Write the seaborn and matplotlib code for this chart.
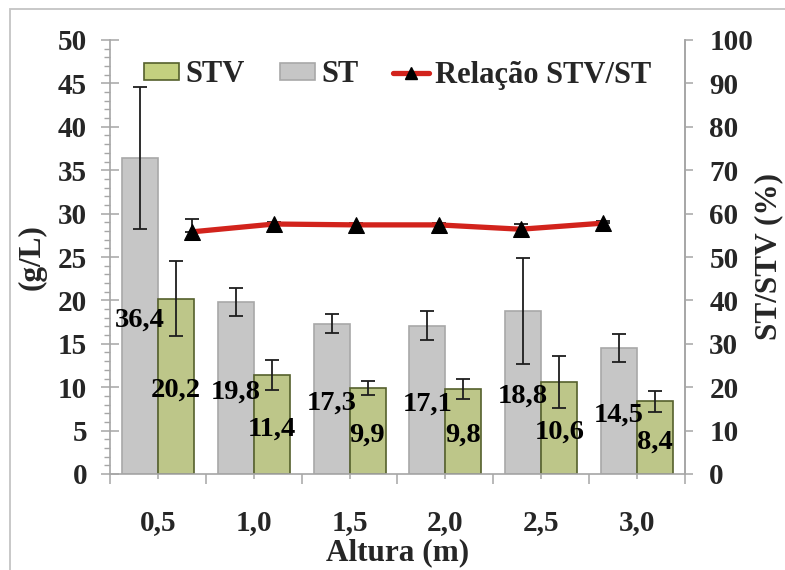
import numpy as np
import pandas as pd
import matplotlib
matplotlib.use("Agg")
import matplotlib.pyplot as plt
import seaborn as sns
from matplotlib.patches import Patch, Rectangle
from matplotlib.lines import Line2D
from matplotlib.ticker import MultipleLocator

# ---- data ----
alturas = ["0,5", "1,0", "1,5", "2,0", "2,5", "3,0"]
st = [36.4, 19.8, 17.3, 17.1, 18.8, 14.5]
stv = [20.2, 11.4, 9.9, 9.8, 10.6, 8.4]
st_err = [8.2, 1.6, 1.1, 1.7, 6.1, 1.6]
stv_err = [4.3, 1.7, 0.8, 1.2, 3.0, 1.2]
relacao = [55.8, 57.6, 57.4, 57.4, 56.4, 57.8]
relacao_err_up = [3.0, 0.5, 0.4, 0.4, 1.2, 0.4]
relacao_pos = [1, 2, 3, 4, 5, 6]
series = ["ST", "STV"]

GRAY = "#c6c6c6"
GRAY_EDGE = "#a8a8a8"
GREEN = "#c4d07f"
GREEN_EDGE = "#55602c"
RED = "#d2231c"
AXC = "#a6a6a6"
FAM = ["Liberation Serif", "DejaVu Serif"]

sns.set_theme(style="white")
plt.rcParams["font.family"] = FAM
plt.rcParams["font.weight"] = "bold"
plt.rcParams["axes.labelweight"] = "bold"

df = pd.DataFrame({
    "Altura": alturas * 2,
    "Serie": ["ST"] * len(alturas) + ["STV"] * len(alturas),
    "valor": st + stv,
})

fig = plt.figure(figsize=(7.85, 5.70), dpi=100)
ax = fig.add_axes([110 / 785, 1 - 474 / 570, 575 / 785, 434 / 570])

sns.barplot(data=df, x="Altura", y="valor", hue="Serie", hue_order=series,
            order=alturas, palette={"ST": GRAY, "STV": GREEN}, width=0.75,
            gap=0, errorbar=None, legend=False, ax=ax, linewidth=1.2)

edges = {"ST": GRAY_EDGE, "STV": GREEN_EDGE}
vals = {"ST": st, "STV": stv}
errs = {"ST": st_err, "STV": stv_err}
for cont, name in zip(ax.containers, series):
    xs = []
    for p, v in zip(cont, vals[name]):
        p.set_edgecolor(edges[name])
        xc = p.get_x() + p.get_width() / 2
        xs.append(xc)
        ax.annotate(f"{v:.1f}".replace(".", ","), (xc, p.get_height() / 2),
                    xytext=(0, -3), textcoords="offset points",
                    ha="center", va="center", fontsize=20.5, fontweight="bold",
                    color="black", zorder=5)
    ax.errorbar(xs, vals[name], yerr=errs[name], fmt="none", ecolor="#1e1e1e",
                elinewidth=1.3, capsize=5, capthick=1.3, zorder=4)

ax.set_ylim(0, 50)
ax.set_xlim(-0.5, len(alturas) - 0.5)
ax.yaxis.set_major_locator(MultipleLocator(5))
ax.yaxis.set_minor_locator(MultipleLocator(1))
ax.set_xticks(range(len(alturas)))
ax.set_xticklabels(alturas)
ax.set_xticks(np.arange(-0.5, len(alturas), 1), minor=True)
ax.tick_params(axis="y", which="major", direction="inout", length=13, width=1.1,
               color=AXC, pad=10, labelsize=21, left=True)
ax.tick_params(axis="y", which="minor", direction="out", length=4.5, width=1,
               color=AXC, left=True)
ax.tick_params(axis="x", which="major", direction="out", length=3.5, width=1.1,
               color=AXC, pad=22, labelsize=21, bottom=True)
ax.tick_params(axis="x", which="minor", direction="out", length=7, width=1.1,
               color=AXC, bottom=True)
for lab in ax.get_xticklabels() + ax.get_yticklabels():
    lab.set_fontweight("bold")
for s in ["left", "bottom", "right"]:
    ax.spines[s].set_color(AXC)
    ax.spines[s].set_linewidth(1.2)
ax.spines["top"].set_visible(False)

ax.set_ylabel("(g/L)", fontsize=22.5, fontweight="bold")
ax.yaxis.label.set(va="center", rotation_mode="default")
ax.yaxis.set_label_coords((32 - 110) / 575, 0.5)
ax.set_xlabel("Altura (m)", fontsize=22.5, fontweight="bold")
ax.xaxis.label.set(va="center")
ax.xaxis.set_label_coords(0.5, (474 - 553) / 434)

# secondary y axis
ax2 = ax.twinx()
ax2.set_ylim(0, 100)
ax2.yaxis.set_major_locator(MultipleLocator(10))
ax2.tick_params(axis="y", which="major", direction="out", length=5.5, width=1.1,
                color=AXC, pad=12, labelsize=21, right=True)
for lab in ax2.get_yticklabels():
    lab.set_fontweight("bold")
for s in ["left", "bottom", "top"]:
    ax2.spines[s].set_visible(False)
ax2.spines["right"].set_color(AXC)
ax2.spines["right"].set_linewidth(1.2)
ax2.set_ylabel("ST/STV (%)", fontsize=22.5, fontweight="bold")
ax2.yaxis.label.set(va="center", ha="center", rotation_mode="default")
ax2.yaxis.set_label_coords((769 - 110) / 575, 0.5)

# secondary x axis for the ratio line
ax3 = ax2.twiny()
ax3.set_xlim(0, len(relacao_pos) + 1)
ax3.set_xticks([])
for s in ax3.spines.values():
    s.set_visible(False)
ax3.errorbar(relacao_pos, relacao, yerr=[[0] * len(relacao), relacao_err_up],
             fmt="none", ecolor="#1e1e1e", elinewidth=1.3, capsize=5,
             capthick=1.3, zorder=2)
sns.lineplot(x=relacao_pos, y=relacao, ax=ax3, color=RED, linewidth=3.8,
             marker="^", markersize=11, markerfacecolor="black",
             markeredgecolor="black", zorder=3)

handles = [
    Patch(facecolor=GREEN, edgecolor=GREEN_EDGE, linewidth=1.2),
    Patch(facecolor=GRAY, edgecolor=GRAY_EDGE, linewidth=1.2),
    Line2D([], [], color=RED, linewidth=3.8, marker="^", markersize=9,
           markerfacecolor="black", markeredgecolor="black"),
]
leg = ax3.legend(handles, ["STV", "ST", "Relação STV/ST"], ncol=3, loc="center",
                 bbox_to_anchor=(0.5, (474 - 75) / 434), frameon=False,
                 prop={"family": FAM, "weight": "bold", "size": 22},
                 handlelength=1.15, handletextpad=0.2, columnspacing=1.15,
                 handleheight=0.5, borderaxespad=0)

fig.add_artist(Rectangle((10 / 785, -0.2), 2, 0.2 + (1 - 9 / 570),
                         transform=fig.transFigure, fill=False,
                         edgecolor="#c4c4c4", linewidth=1.3))

fig.savefig("out.png", dpi=100)
